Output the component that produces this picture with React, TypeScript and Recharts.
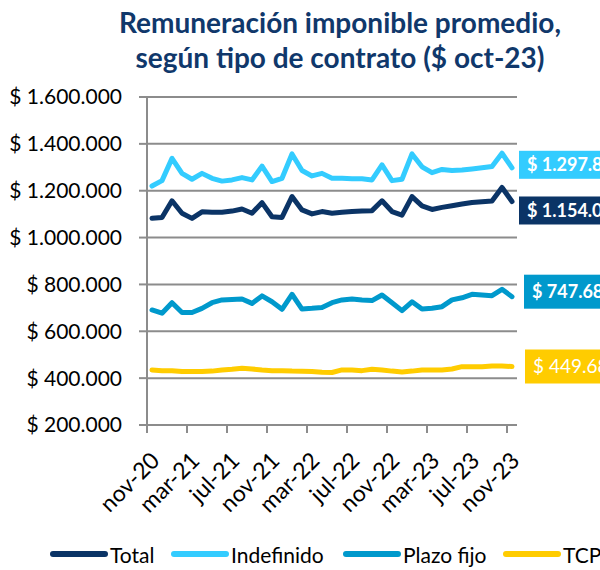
import React from 'react';
import { LineChart, Line, XAxis, YAxis, CartesianGrid } from 'recharts';

const months = [
  'nov-20', 'dic-20', 'ene-21', 'feb-21', 'mar-21', 'abr-21', 'may-21', 'jun-21', 'jul-21', 'ago-21', 'sep-21', 'oct-21',
  'nov-21', 'dic-21', 'ene-22', 'feb-22', 'mar-22', 'abr-22', 'may-22', 'jun-22', 'jul-22', 'ago-22', 'sep-22', 'oct-22',
  'nov-22', 'dic-22', 'ene-23', 'feb-23', 'mar-23', 'abr-23', 'may-23', 'jun-23', 'jul-23', 'ago-23', 'sep-23', 'oct-23',
  'nov-23',
];

const total = [
  1082000, 1086000, 1157000, 1104000, 1082000, 1110000, 1108000, 1108000, 1113000, 1122000, 1104000, 1149000,
  1089000, 1086000, 1175000, 1118000, 1101000, 1111000, 1104000, 1108000, 1111000, 1113000, 1115000, 1157000,
  1111000, 1096000, 1175000, 1135000, 1120000, 1129000, 1136000, 1143000, 1150000, 1153000, 1156000, 1214000,
  1154000,
];

const indefinido = [
  1220000, 1243000, 1338000, 1274000, 1249000, 1274000, 1253000, 1241000, 1246000, 1256000, 1246000, 1305000,
  1239000, 1253000, 1357000, 1286000, 1263000, 1274000, 1253000, 1253000, 1251000, 1251000, 1246000, 1310000,
  1243000, 1249000, 1357000, 1302000, 1277000, 1291000, 1286000, 1288000, 1293000, 1298000, 1303000, 1360000,
  1297800,
];

const plazoFijo = [
  691000, 677000, 722000, 680000, 680000, 698000, 722000, 734000, 736000, 738000, 719000, 751000,
  726000, 694000, 758000, 695000, 698000, 702000, 722000, 734000, 738000, 734000, 731000, 755000,
  722000, 688000, 726000, 695000, 698000, 705000, 734000, 743000, 758000, 755000, 752000, 779000,
  747680,
];

const tcp = [
  435000, 432000, 432000, 428000, 428000, 428000, 430000, 435000, 438000, 442000, 439000, 435000,
  432000, 432000, 430000, 429000, 428000, 425000, 424000, 435000, 435000, 432000, 438000, 435000,
  430000, 426000, 430000, 435000, 435000, 435000, 439000, 449000, 449000, 449000, 452000, 452000,
  449680,
];

const yTicks = [200000, 400000, 600000, 800000, 1000000, 1200000, 1400000, 1600000];
const xTickLabels = ['nov-20', 'mar-21', 'jul-21', 'nov-21', 'mar-22', 'jul-22', 'nov-22', 'mar-23', 'jul-23', 'nov-23'];
const endLabels = ['$ 1.154.0', '$ 1.297.8', '$ 747.68', '$ 449.68'];

const series = [
  { key: 'total', name: 'Total', color: '#0B3466', values: total, label: endLabels[0], bold: true, dy: 9, h: 28, dx: 7 },
  { key: 'indefinido', name: 'Indefinido', color: '#33CCFF', values: indefinido, label: endLabels[1], bold: true, dy: -3, h: 28, dx: 7 },
  { key: 'plazo', name: 'Plazo fijo', color: '#0099CC', values: plazoFijo, label: endLabels[2], bold: true, dy: -5, h: 34, dx: 12 },
  { key: 'tcp', name: 'TCP', color: '#FFCC00', values: tcp, label: endLabels[3], bold: false, dy: 0, h: 34, dx: 13 },
];

// left edge of each legend item (line sample start)
const legendLeft = [50, 171, 343, 503];

const data = months.map((m, i) => {
  const row: any = { idx: i, month: m };
  series.forEach((s) => { row[s.key] = s.values[i]; });
  return row;
});

const font = 'Lato, "Open Sans", sans-serif';

const fmt = (v: number) => '$ ' + String(v).replace(/\B(?=(\d{3})+(?!\d))/g, '.');

const XTick = (props: any) => {
  const { x, y, payload } = props;
  const k = Math.round((payload.value + 0.5) / 4);
  return (
    <g transform={`translate(${x + 14},${y + 27})`}>
      <text textAnchor="end" transform="rotate(-45)" fill="#000" fontSize={23} fontFamily={font}>
        {xTickLabels[k]}
      </text>
    </g>
  );
};

const endLabel = (s: any) => (props: any) => {
  const { x, y, index } = props;
  if (index !== months.length - 1) return null;
  const top = y + s.dy - s.h / 2;
  return (
    <g key={s.key + '-end'}>
      <rect x={x + s.dx} y={top} width={120} height={s.h} fill={s.color} />
      <text x={x + s.dx + 8} y={top + s.h / 2} dy="0.36em" fill="#fff" fontSize={s.bold ? 18 : 19}
        fontWeight={s.bold ? 700 : 400} fontFamily={font}>
        {s.label}
      </text>
    </g>
  );
};

export default function App() {
  return (
    <div style={{ position: 'absolute', left: 0, top: 0, width: 600, height: 570, background: '#fff', overflow: 'hidden' }}>
      <div style={{ position: 'absolute', left: 80, top: 5, width: 520, textAlign: 'center', fontFamily: font,
        fontWeight: 700, fontSize: 28, lineHeight: '35px', color: '#10386B', whiteSpace: 'nowrap' }}>
        Remuneración imponible promedio,<br />según tipo de contrato ($ oct-23)
      </div>
      <LineChart width={600} height={570} data={data} margin={{ top: 97, right: 83, bottom: 0, left: 0 }}>
        <CartesianGrid vertical={false} stroke="#8C8C8C" strokeWidth={2} />
        <XAxis dataKey="idx" type="number" domain={[-0.5, 36.5]} ticks={[-0.5, 3.5, 7.5, 11.5, 15.5, 19.5, 23.5, 27.5, 31.5, 35.5]}
          interval={0} height={145} tick={<XTick />} tickSize={8} stroke="#8C8C8C" strokeWidth={2} allowDataOverflow />
        <YAxis domain={[200000, 1600000]} ticks={yTicks} width={147} tickFormatter={fmt} tickSize={8} tickMargin={17}
          stroke="#8C8C8C" strokeWidth={2} tick={{ fill: '#000', fontSize: 21, fontFamily: font }} interval={0} />
        {series.map((s) => (
          <Line key={s.key} dataKey={s.key} name={s.name} type="linear" stroke={s.color} strokeWidth={5} dot={false}
            strokeLinejoin="round" strokeLinecap="round" isAnimationActive={false} label={endLabel(s)} />
        ))}
      </LineChart>
      {series.map((s, i) => (
        <div key={s.key} style={{ position: 'absolute', left: legendLeft[i], top: 540, height: 28, display: 'flex',
          alignItems: 'center', fontFamily: font, fontSize: 21, color: '#000', whiteSpace: 'nowrap' }}>
          <svg width={58} height={8}>
            <line x1={3} y1={4} x2={55} y2={4} stroke={s.color} strokeWidth={6} strokeLinecap="round" />
          </svg>
          <span style={{ marginLeft: 2 }}>{s.name}</span>
        </div>
      ))}
    </div>
  );
}
